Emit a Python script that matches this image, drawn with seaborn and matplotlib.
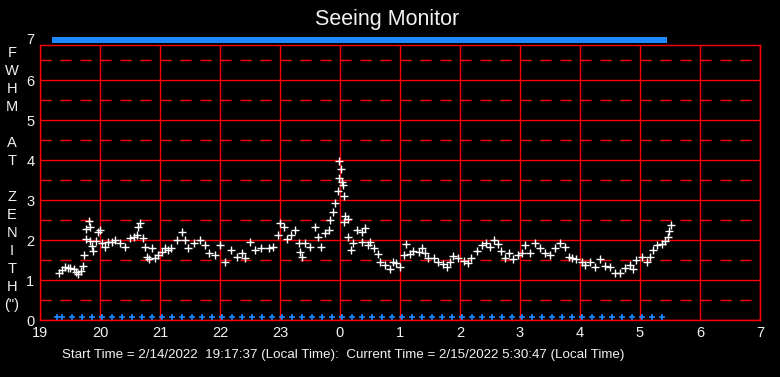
import numpy as np
import pandas as pd
import matplotlib
matplotlib.use("Agg")
import matplotlib.pyplot as plt
import seaborn as sns

# seeing samples: local clock hour, FWHM at zenith (arcsec)
clock_hours = [
    19.31, 19.36, 19.42, 19.46, 19.50, 19.56, 19.60, 19.64, 19.68, 19.72,
    19.74, 19.76, 19.77, 19.81, 19.83, 19.84, 19.86, 19.89, 19.94, 19.97,
    20.00, 20.03, 20.08, 20.14, 20.20, 20.25, 20.33, 20.42, 20.50, 20.56,
    20.61, 20.64, 20.67, 20.72, 20.75, 20.78, 20.81, 20.86, 20.92, 20.97,
    21.03, 21.08, 21.14, 21.19, 21.28, 21.36, 21.42, 21.47, 21.56, 21.67,
    21.75, 21.81, 21.92, 22.00, 22.08, 22.19, 22.28, 22.36, 22.42, 22.50,
    22.58, 22.69, 22.81, 22.89, 22.97, 23.00, 23.06, 23.11, 23.19, 23.25,
    23.31, 23.33, 23.36, 23.42, 23.50, 23.58, 23.64, 23.69, 23.75, 23.81,
    23.83, 23.89, 23.92, 23.96, 23.99, 0.01, 23.98, 0.03, 0.05, 0.06,
    0.07, 0.09, 0.13, 0.14, 0.19, 0.22, 0.28, 0.36, 0.36, 0.42,
    0.47, 0.50, 0.56, 0.64, 0.67, 0.75, 0.83, 0.89, 0.94, 1.00,
    1.06, 1.10, 1.17, 1.22, 1.31, 1.36, 1.42, 1.47, 1.56, 1.64,
    1.72, 1.79, 1.83, 1.89, 1.97, 2.06, 2.14, 2.19, 2.28, 2.36,
    2.44, 2.50, 2.56, 2.64, 2.69, 2.75, 2.81, 2.89, 2.97, 3.03,
    3.08, 3.17, 3.25, 3.33, 3.42, 3.50, 3.58, 3.67, 3.75, 3.81,
    3.86, 3.94, 4.03, 4.08, 4.17, 4.25, 4.33, 4.42, 4.50, 4.58,
    4.67, 4.75, 4.83, 4.89, 4.94, 5.03, 5.11, 5.17, 5.21, 5.28,
    5.36, 5.42, 5.46, 5.49, 5.51,
]
fwhm = [
    1.17, 1.25, 1.33, 1.31, 1.31, 1.27, 1.20, 1.14, 1.22, 1.35,
    1.62, 2.02, 2.27, 2.48, 2.33, 1.98, 1.85, 1.73, 1.97, 2.21,
    2.25, 1.92, 1.83, 1.96, 1.95, 2.00, 1.92, 1.83, 2.04, 2.08,
    2.12, 2.33, 2.42, 2.04, 1.83, 1.58, 1.52, 1.79, 1.54, 1.62,
    1.71, 1.79, 1.75, 1.79, 2.00, 2.21, 2.00, 1.79, 1.92, 2.00,
    1.88, 1.67, 1.62, 1.88, 1.46, 1.75, 1.58, 1.68, 1.54, 1.96,
    1.75, 1.79, 1.79, 1.83, 2.12, 2.42, 2.33, 2.02, 2.12, 2.25,
    1.92, 1.71, 1.58, 1.92, 1.83, 2.33, 2.08, 1.83, 2.17, 2.25,
    2.50, 2.71, 2.93, 3.23, 3.98, 3.77, 3.54, 3.46, 3.38, 3.10,
    2.44, 2.60, 2.52, 2.08, 1.75, 1.92, 2.25, 2.21, 1.96, 2.29,
    1.88, 1.96, 1.80, 1.64, 1.44, 1.38, 1.27, 1.46, 1.42, 1.32,
    1.62, 1.90, 1.65, 1.73, 1.71, 1.79, 1.68, 1.54, 1.54, 1.46,
    1.40, 1.32, 1.46, 1.60, 1.54, 1.48, 1.43, 1.54, 1.73, 1.88,
    1.92, 1.83, 2.00, 1.90, 1.73, 1.54, 1.68, 1.52, 1.62, 1.67,
    1.88, 1.67, 1.93, 1.79, 1.67, 1.62, 1.79, 1.92, 1.83, 1.58,
    1.54, 1.52, 1.46, 1.38, 1.46, 1.32, 1.52, 1.35, 1.32, 1.18,
    1.18, 1.29, 1.38, 1.27, 1.50, 1.58, 1.46, 1.58, 1.75, 1.88,
    1.90, 1.98, 2.08, 2.22, 2.38,
]

# status marks (every 10 minutes)
status_times = [
    "19:17", "19:22", "19:32", "19:42", "19:52",
    "20:02", "20:12", "20:22", "20:32", "20:42", "20:52",
    "21:02", "21:12", "21:22", "21:32", "21:42", "21:52",
    "22:02", "22:12", "22:22", "22:32", "22:42", "22:52",
    "23:02", "23:12", "23:22", "23:32", "23:42", "23:52",
    "00:02", "00:12", "00:22", "00:32", "00:42", "00:52",
    "01:02", "01:12", "01:22", "01:32", "01:42", "01:52",
    "02:02", "02:12", "02:22", "02:32", "02:42", "02:52",
    "03:02", "03:12", "03:22", "03:32", "03:42", "03:52",
    "04:02", "04:12", "04:22", "04:32", "04:42", "04:52",
    "05:02", "05:12", "05:22",
]

hour_ticks = list(range(19, 32))
hour_labels = [str(h % 24) for h in hour_ticks]
fwhm_ticks = [0, 1, 2, 3, 4, 5, 6]
ylabel_letters = ["F", "W", "H", "M", "", "A", "T", "", "Z", "E", "N", "I", "T", "H", '(")']

title = "Seeing Monitor"
footer = "Start Time = 2/14/2022  19:17:37 (Local Time):  Current Time = 2/15/2022 5:30:47 (Local Time)"


def unwrap(h):
    h = np.asarray(h, dtype=float)
    return np.where(h < 12, h + 24, h)


df = pd.DataFrame({"hour": unwrap(clock_hours), "fwhm": fwhm})
st = pd.to_datetime(pd.Series(status_times), format="%H:%M")
status_hours = unwrap(st.dt.hour + st.dt.minute / 60)

sns.set_theme(style="dark", rc={"axes.facecolor": "black", "figure.facecolor": "black",
                                "savefig.facecolor": "black"})
plt.rcParams["font.family"] = ["Liberation Sans", "DejaVu Sans"]

RED = "#ff0000"
BLUE = "#1e88ff"
TXT = "#f2f2f2"

W, H = 780, 377
fig = plt.figure(figsize=(W / 100, H / 100), dpi=100)
ax = fig.add_axes([40 / W, (H - 320) / H, 720 / W, 275 / H])
ax.set_facecolor("black")

ax.set_xlim(19, 31)
ax.set_ylim(0, 6.875)

ax.set_xticks(hour_ticks)
ax.set_xticklabels(hour_labels)
ax.set_yticks(fwhm_ticks)
ax.tick_params(axis="both", length=0, colors=TXT, labelsize=10.5)
ax.tick_params(axis="x", pad=4)
ax.tick_params(axis="y", pad=4)
ax.annotate("7", xy=(0, 7), xycoords=("axes fraction", "data"), xytext=(-4, 0),
            textcoords="offset points", ha="right", va="center", color=TXT,
            fontsize=10.5, annotation_clip=False)

ax.grid(True, color=RED, lw=1.0)
ax.set_axisbelow(True)
for y in fwhm_ticks:
    ax.axhline(y + 0.5, color=RED, lw=1.0, dashes=(8, 6.4), zorder=0.5)
for s in ax.spines.values():
    s.set_color(RED)
    s.set_linewidth(1.0)

sns.scatterplot(data=df, x="hour", y="fwhm", marker="+", color="white",
                s=30, linewidth=1.0, ax=ax, zorder=3, legend=False)

ax.plot(status_hours, np.full(len(status_hours), 0.07), ls="none", marker="+",
        color=BLUE, ms=5, mew=1.2, zorder=3)
rect = [(-1, -0.6), (1, -0.6), (1, 0.6), (-1, 0.6), (-1, -0.6)]
ax.plot(status_hours, np.full(len(status_hours), 7.0), ls="-", lw=0.6, marker=rect,
        color=BLUE, ms=6.8, mew=0, zorder=4, clip_on=False)

ax.set_xlabel("")
ax.set_ylabel("")

fig.text(387 / W, 1 - 20 / H, title, ha="center", va="center", color=TXT, fontsize=15.5)
for i, ch in enumerate(ylabel_letters):
    fig.text(12 / W, 1 - (53 + 18 * i) / H, ch, ha="center", va="center",
             color=TXT, fontsize=10.5)
fig.text(62 / W, 1 - 355 / H, footer, ha="left", va="center", color=TXT, fontsize=9.6)

fig.savefig("out.png", dpi=100, facecolor="black")
